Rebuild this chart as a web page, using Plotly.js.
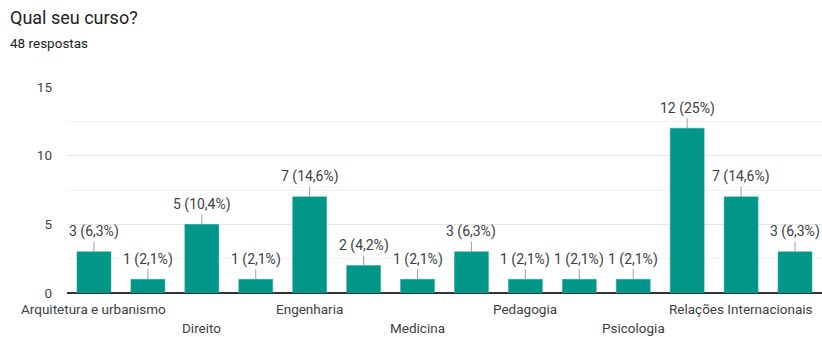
<!DOCTYPE html>
<html>
<head>
<meta charset="utf-8">
<script src="https://cdn.plot.ly/plotly-3.0.1.min.js"></script>
<style>html,body{margin:0;padding:0;background:#fff;}#chart{width:822px;height:337px;}</style>
</head>
<body>
<div id="chart"></div>
<script>
// Category labels (only every other label is shown in the original; hidden ones left blank)
const categoryLabels = ["Arquitetura e urbanismo", "", "Direito", "", "Engenharia", "", "Medicina", "", "Pedagogia", "", "Psicologia", "", "Relações Internacionais", ""];
// Which row each visible label sits on (0 = upper, 1 = lower)
const labelRows = [0, 0, 1, 1, 0, 0, 1, 1, 0, 0, 1, 1, 0, 0];
const counts = [3, 1, 5, 1, 7, 2, 1, 3, 1, 1, 1, 12, 7, 3];
const percentLabels = ["6,3%", "2,1%", "10,4%", "2,1%", "14,6%", "4,2%", "2,1%", "6,3%", "2,1%", "2,1%", "2,1%", "25%", "14,6%", "6,3%"];
const yTicks = [0, 5, 10, 15];

const xs = counts.map((_, i) => i);
const fontFam = "Roboto, Arial, sans-serif";

const annotations = [];
counts.forEach((v, i) => {
  annotations.push({
    x: i, y: v, xref: "x", yref: "y",
    text: v + " (" + percentLabels[i] + ")",
    showarrow: true, arrowhead: 0, arrowwidth: 1, arrowcolor: "#9e9e9e",
    ax: 0, ay: -20, standoff: 0,
    font: {family: fontFam, size: 14, color: "#3c4043"}
  });
});
categoryLabels.forEach((t, i) => {
  if (!t) return;
  annotations.push({
    x: i, y: 0, xref: "x", yref: "y",
    text: t, showarrow: false,
    yanchor: "middle", xanchor: "center",
    yshift: labelRows[i] === 0 ? -16 : -35,
    font: {family: fontFam, size: 13.5, color: "#3c4043"}
  });
});
annotations.push({
  x: 0, y: 1, xref: "paper", yref: "paper",
  text: "48 respostas", showarrow: false,
  xanchor: "left", yanchor: "middle",
  xshift: -59, yshift: 44,
  font: {family: fontFam, size: 13.5, color: "#202124"}
});

const data = [{
  type: "bar",
  x: xs,
  y: counts,
  width: 0.63,
  marker: {color: "#009688", line: {color: "#26a69a", width: 0.5}},
  hoverinfo: "skip"
}];

const layout = {
  width: 822, height: 337,
  margin: {l: 67, r: 0, t: 87, b: 44},
  paper_bgcolor: "#fff", plot_bgcolor: "#fff",
  showlegend: false,
  title: {
    text: "Qual seu curso?",
    xref: "container", yref: "container",
    x: 10 / 822, xanchor: "left",
    y: 1 - 18 / 337, yanchor: "middle",
    font: {family: fontFam, size: 18, color: "#202124"}
  },
  xaxis: {
    range: [-0.5, 13.5],
    showticklabels: false, showgrid: false, zeroline: false,
    ticks: "", showline: false, fixedrange: true
  },
  yaxis: {
    range: [0, 15],
    tickvals: yTicks,
    ticktext: yTicks.map(String),
    tickfont: {family: fontFam, size: 13.5, color: "#444"},
    ticks: "", ticklabelstandoff: 14,
    showgrid: true, gridcolor: "#e6e6e6", gridwidth: 1,
    minor: {tickvals: [2.5, 7.5, 12.5], showgrid: true, gridcolor: "#f3f3f3", gridwidth: 1},
    zeroline: true, zerolinecolor: "#333", zerolinewidth: 1.5,
    showline: false, fixedrange: true
  },
  annotations: annotations
};

Plotly.newPlot("chart", data, layout, {staticPlot: true, displayModeBar: false});
</script>
</body>
</html>
